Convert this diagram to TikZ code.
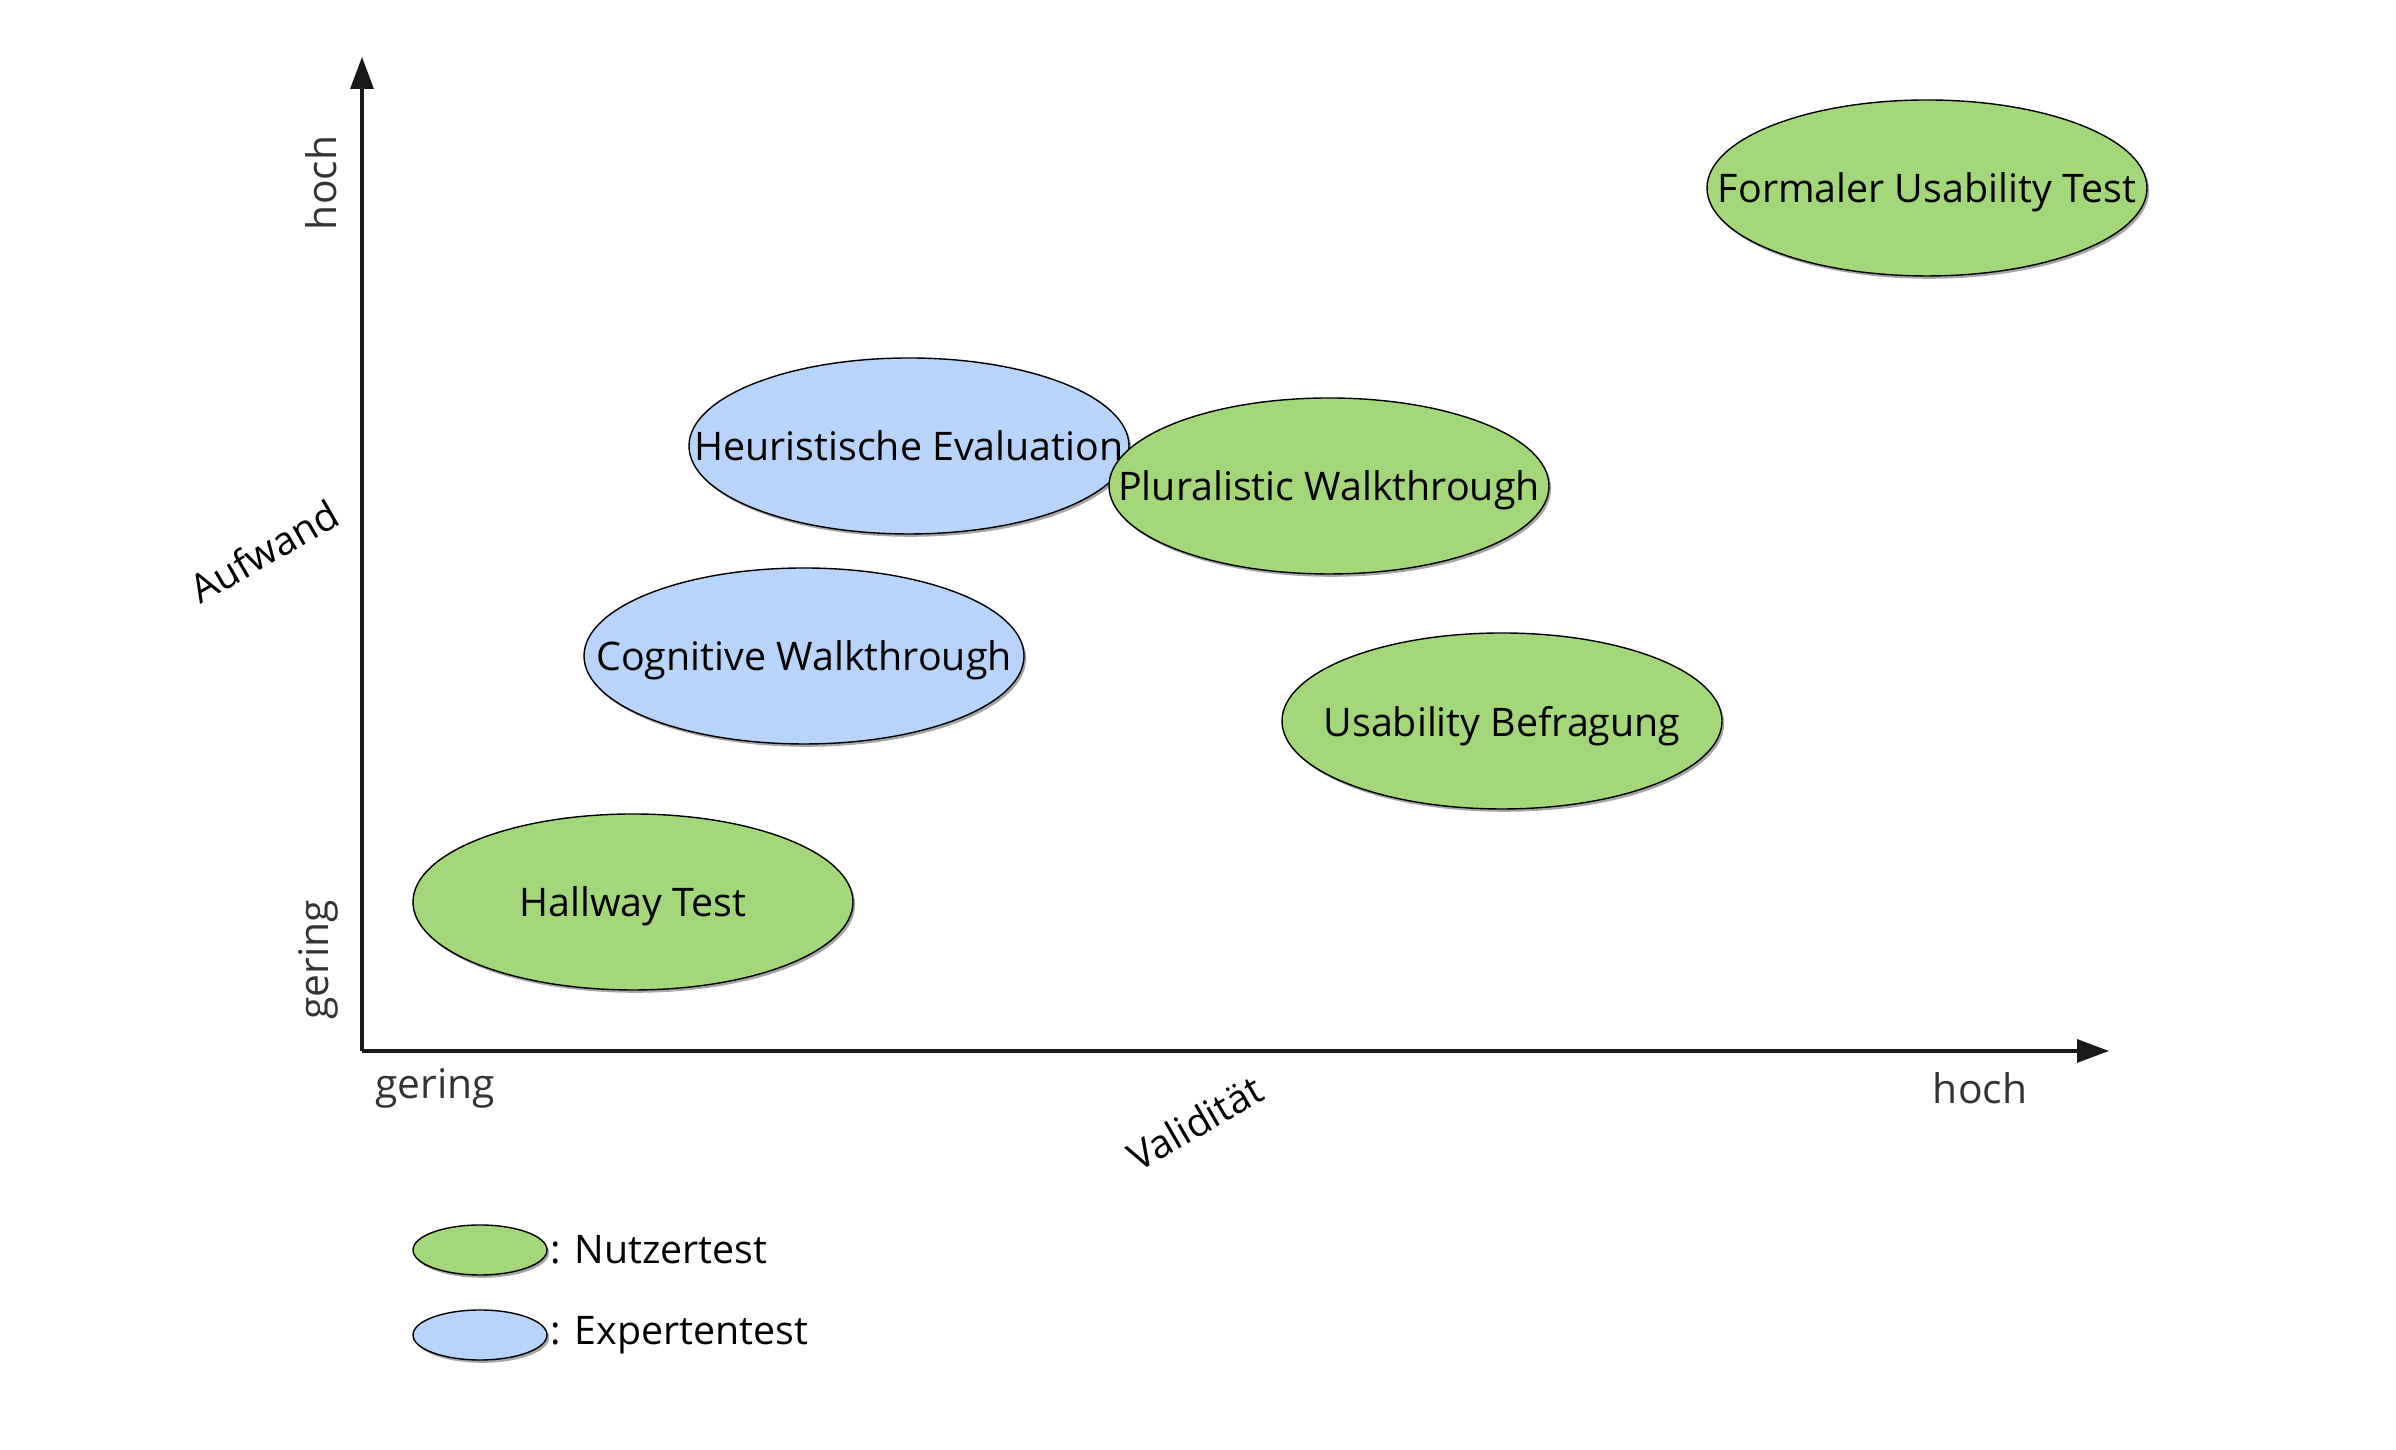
\documentclass[tikz,border=0pt]{standalone}
\usepackage{fontspec}
\setmainfont{Open Sans}
\usepackage{tikz}
\usetikzlibrary{shapes.geometric,arrows.meta,shadows,positioning}
\definecolor{nutzgreen}{RGB}{164,215,121}
\definecolor{expblue}{RGB}{184,212,250}
\newcommand{\ovaltext}[1]{\makebox[0pt]{#1}}

\begin{document}
\begin{tikzpicture}[font=\fontsize{11.2}{13}\selectfont,
    oval/.style={ellipse, draw=black, thin, minimum width=4.4cm, minimum height=1.76cm, inner sep=0pt,
      text depth=0pt,
      drop shadow={shadow xshift=0.6pt, shadow yshift=-0.8pt, opacity=0.35, fill=black}},
    nutzer/.style={oval, fill=nutzgreen},
    experte/.style={oval, fill=expblue},
    tick/.style={text=black!80, font=\fontsize{11.6}{13}\selectfont},
    axlabel/.style={rotate=30}]
   \useasboundingbox (0,0) rectangle (23.96,14.50);
   % axes
   \coordinate (origin) at (3.62,3.99);
   \coordinate (ytop) at (3.62,13.93);
   \coordinate (xend) at (21.09,3.99);
   \draw [line width=0.9pt, black!90, -{Triangle[length=3.2mm,width=2.3mm]}] (origin) -- (ytop);
   \draw [line width=0.9pt, black!90, -{Triangle[length=3.2mm,width=2.3mm]}] (origin) -- (xend);
   \node (yhoch) [tick, rotate=90] at (3.21,12.67) {hoch};
   \node (ygering) [tick, rotate=90] at (3.18,4.90) {gering};
   \node (xgering) [tick] at (4.35,3.62) {gering};
   \node (xhoch) [tick] at (19.80,3.62) {hoch};
   \node (aufwand) [axlabel] at (2.64,8.99) {Aufwand};
   \node (validitaet) [axlabel] at (11.95,3.27) {Validität};
   % methods
   \node (formal) [nutzer] at (19.27,12.62) {\ovaltext{Formaler Usability Test}};
   \node (heur) [experte] at (9.09,10.04) {\ovaltext{Heuristische Evaluation}};
   \node (plural) [nutzer] at (13.29,9.64) {\ovaltext{Pluralistic Walkthrough}};
   \node (cogn) [experte] at (8.04,7.94) {\ovaltext{Cognitive Walkthrough}};
   \node (befr) [nutzer] at (15.02,7.29) {\ovaltext{Usability Befragung}};
   \node (hallway) [nutzer] at (6.33,5.48) {\ovaltext{Hallway Test}};
   % legend
   \node (legnutz) [nutzer, minimum width=1.34cm, minimum height=0.50cm] at (4.80,2.00) {};
   \node (legexp) [experte, minimum width=1.34cm, minimum height=0.50cm] at (4.80,1.15) {};
   \node (txtnutz) [right=0.02cm of legnutz, inner sep=0pt] {: Nutzertest};
   \node (txtexp) [right=0.02cm of legexp, inner sep=0pt] {: Expertentest};
\end{tikzpicture}
\end{document}
